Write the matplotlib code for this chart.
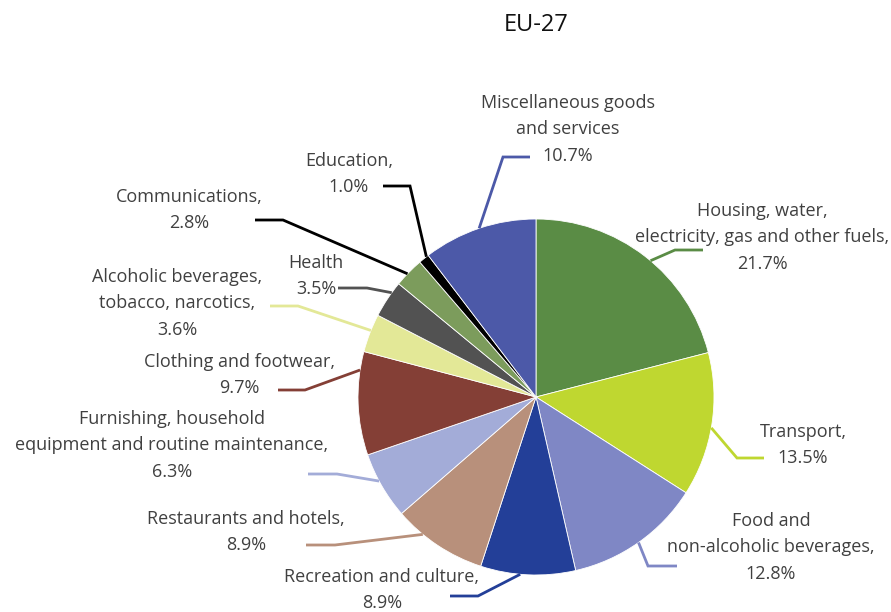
import numpy as np
import matplotlib.pyplot as plt

plt.rcParams['font.family'] = ['Open Sans', 'DejaVu Sans']

# household consumption shares, EU-27 (clockwise from 12 o'clock)
categories = [
    'Housing, water,\nelectricity, gas and other fuels,',
    'Transport,',
    'Food and\nnon-alcoholic beverages,',
    'Recreation and culture,',
    'Restaurants and hotels,',
    'Furnishing, household\nequipment and routine maintenance,',
    'Clothing and footwear,',
    'Alcoholic beverages,\ntobacco, narcotics,',
    'Health',
    'Communications,',
    'Education,',
    'Miscellaneous goods\nand services',
]
shares = [21.7, 13.5, 12.8, 8.9, 8.9, 6.3, 9.7, 3.6, 3.5, 2.8, 1.0, 10.7]
colors = ['#5a8c45', '#bfd730', '#7f87c5', '#233f98', '#b8907b', '#a3acd8',
          '#843f36', '#e3e897', '#525252', '#7c9c5c', '#000000', '#4c59a8']
line_colors = colors[:9] + ['#000000'] + colors[10:]

# label centre x and y of first line (pixels from top-left)
label_pos = [(762, 212), (803, 432), (771, 522), (382, 577), (246, 519), (172, 420),
             (239, 362), (177, 278), (316, 263), (189, 197), (349, 161), (568, 104)]
# where along each wedge the leader starts (0 = leading edge, 1 = trailing edge)
leader_frac = [0.53, 0.52, 0.50, 0.58, 0.69, 0.58, 0.82, 0.57, 0.70, 0.44, 0.78, 0.50]
# leader elbow and end (pixels from top-left)
elbows = [((675, 250), (703, 250)), ((737, 458), (764, 458)), ((648, 566), (677, 566)),
          ((478, 596), (450, 596)), ((335, 545), (306, 545)), ((337, 474), (308, 474)),
          ((305, 390), (278, 390)), ((298, 306), (270, 306)), ((367, 288), (338, 288)),
          ((283, 220), (255, 220)), ((410, 186), (383, 186)), ((503, 157), (530, 157))]

W, H = 891, 612
fig = plt.figure(figsize=(W / 100, H / 100), dpi=100)
ax = fig.add_axes([0, 0, 1, 1])

cx, cy, r = 536, H - 397, 178
wedges, _ = ax.pie(shares, colors=colors, startangle=90, counterclock=False,
                   center=(cx, cy), radius=r, frame=True,
                   wedgeprops=dict(linewidth=0.6, edgecolor='white'))
ax.set_xlim(0, W)
ax.set_ylim(0, H)
ax.set_aspect('equal')
ax.axis('off')

line_px = 25.5
for w, cat, val, col, (lx, ly), f, (e1, e2) in zip(wedges, categories, shares, line_colors,
                                                    label_pos, leader_frac, elbows):
    ang = np.deg2rad(w.theta2 - f * (w.theta2 - w.theta1))
    sx, sy = cx + r * np.cos(ang), cy + r * np.sin(ang)
    ax.plot([sx, e1[0], e2[0]], [sy, H - e1[1], H - e2[1]], color=col, lw=2,
            solid_joinstyle='miter', solid_capstyle='butt', zorder=3)
    n = cat.count('\n') + 2
    yc = ly + (n - 1) * line_px / 2
    ax.text(lx, H - yc, f'{cat}\n{val:.1f}%', ha='center', va='center',
            fontsize=13, color='#404040', linespacing=1.59)

ax.text(536, H - 25, 'EU-27', ha='center', va='center', fontsize=17, color='#111111')

fig.savefig('out.png', dpi=100)
